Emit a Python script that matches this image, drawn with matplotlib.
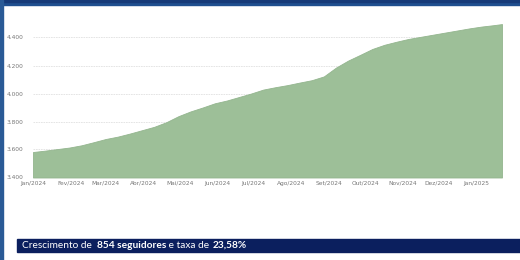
import matplotlib
matplotlib.use("Agg")
import matplotlib.pyplot as plt
import matplotlib.dates as mdates
import pandas as pd
from matplotlib.patches import Rectangle

# Data
start = pd.Timestamp("2024-01-01")
day_offsets = [0, 10, 20, 30, 40, 50, 60, 70, 80, 90, 100, 110, 120, 130, 140,
               150, 160, 170, 180, 190, 200, 210, 220, 230, 240, 250, 260, 270,
               280, 290, 300, 310, 320, 330, 340, 350, 360, 370, 380, 387]
followers = [3582, 3592, 3603, 3614, 3630, 3652, 3675, 3692, 3714, 3738, 3762,
             3795, 3838, 3872, 3900, 3930, 3950, 3975, 4000, 4028, 4045, 4060,
             4078, 4095, 4122, 4185, 4235, 4276, 4318, 4348, 4370, 4390, 4405,
             4420, 4435, 4450, 4465, 4478, 4488, 4496]
dates = [start + pd.Timedelta(days=d) for d in day_offsets]

month_labels = ["Jan/2024", "Fev/2024", "Mar/2024", "Abr/2024", "Mai/2024",
                "Jun/2024", "Jul/2024", "Ago/2024", "Set/2024", "Out/2024",
                "Nov/2024", "Dez/2024", "Jan/2025"]
month_ticks = pd.date_range("2024-01-01", periods=13, freq="MS")
y_ticks = [3400, 3600, 3800, 4000, 4200, 4400]
y_labels = ["3.400", "3.600", "3.800", "4.000", "4.200", "4.400"]
banner_parts = [("Crescimento de  ", "normal"), ("854 seguidores", "bold"),
                (" e taxa de ", "normal"), ("23,58%", "bold")]

W, H = 520, 260
fig = plt.figure(figsize=(W / 100, H / 100), dpi=100)
fig.patch.set_facecolor("white")

# frame decorations
fig.add_artist(Rectangle((0, 1 - 5 / H), 1, 5 / H, transform=fig.transFigure,
                         color="#1f4f8f", zorder=0))
fig.add_artist(Rectangle((0, 1 - 2 / H), 1, 2 / H, transform=fig.transFigure,
                         color="#163a78", zorder=0))
fig.add_artist(Rectangle((0, 0), 3 / W, 1, transform=fig.transFigure,
                         color="#2a5a96", zorder=0))
fig.add_artist(Rectangle((17 / W, 1 - 252 / H), 1 - 17 / W, 13 / H,
                         transform=fig.transFigure, color="#0b1f5e", zorder=0))

ax = fig.add_axes([33 / W, 1 - 177.5 / H, (502 - 33) / W, (177.5 - 23.5) / H])
x = mdates.date2num(dates)
ax.fill_between(x, 3400, followers, color="#9dbf98", lw=0.6,
                edgecolor="#93b58e", zorder=2)
ax.set_xlim(mdates.date2num(start), x[-1])
ax.set_ylim(3400, 4500)
ax.set_yticks(y_ticks)
ax.set_yticklabels(y_labels)
ax.set_xticks(mdates.date2num(month_ticks))
ax.set_xticklabels(month_labels)
ax.tick_params(axis="both", labelsize=4.2, colors="#777777", length=0)
ax.tick_params(axis="y", pad=7)
ax.tick_params(axis="x", pad=2.5)
for t in y_ticks:
    ax.axhline(t, color="#e0e0e0", lw=0.6, ls=(0, (2, 1)), zorder=1)
for s in ax.spines.values():
    s.set_visible(False)
ax.set_facecolor("white")

# banner text
renderer = fig.canvas.get_renderer()
xpos = 22 / W
for txt, wt in banner_parts:
    t = fig.text(xpos, 1 - 245.5 / H, txt, fontsize=7.3, color="white",
                 fontweight=wt, family=["Lato", "DejaVu Sans"], va="center",
                 ha="left")
    bb = t.get_window_extent(renderer=renderer)
    xpos += bb.width / W

fig.savefig("out.png", dpi=100)
